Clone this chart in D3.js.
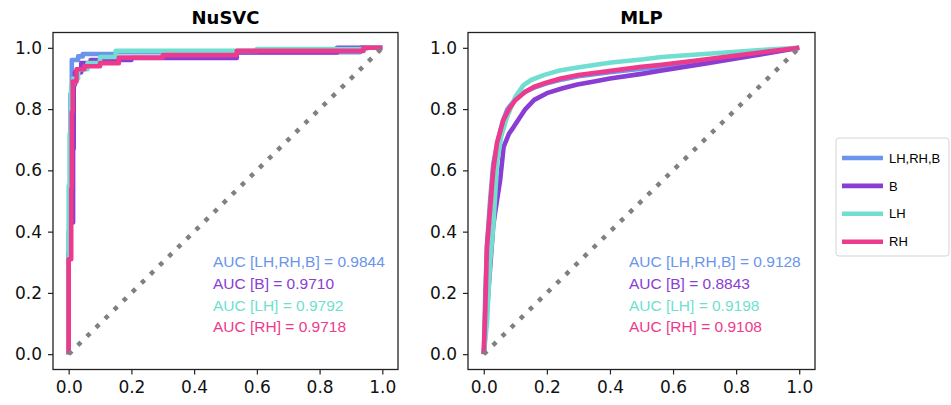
<!DOCTYPE html>
<html>
<head>
<meta charset="utf-8">
<script src="https://cdn.jsdelivr.net/npm/d3@7"></script>
<style>
  body { margin: 0; background: #fff; }
  svg { display: block; }
</style>
</head>
<body>
<script>
// series names and colours
const seriesNames = ['LH,RH,B', 'B', 'LH', 'RH'];
const seriesColors = ['#6a95eb', '#8a3dd2', '#70dfd1', '#ee3a8c'];
const ticks = [0, 0.2, 0.4, 0.6, 0.8, 1.0];

// NuSVC roc points [fpr, tpr]
const svcAll = [[0,0],[0,0.4],[0.003,0.4],[0.003,0.51],[0.006,0.51],[0.006,0.85],[0.01,0.85],[0.01,0.96],[0.03,0.96],[0.03,0.972],[0.045,0.972],[0.045,0.98],[0.15,0.98],[0.15,0.986],[0.93,0.986],[0.93,1],[1,1]];
const svcB = [[0,0],[0,0.33],[0.003,0.33],[0.003,0.43],[0.014,0.43],[0.014,0.67],[0.016,0.67],[0.016,0.88],[0.02,0.88],[0.02,0.92],[0.04,0.92],[0.04,0.95],[0.07,0.95],[0.07,0.96],[0.2,0.96],[0.2,0.967],[0.536,0.967],[0.536,0.985],[0.856,0.985],[0.856,1],[1,1]];
const svcLH = [[0,0],[0,0.55],[0.003,0.55],[0.003,0.72],[0.008,0.72],[0.008,0.88],[0.015,0.88],[0.015,0.9],[0.03,0.9],[0.03,0.93],[0.06,0.93],[0.06,0.95],[0.1,0.95],[0.1,0.97],[0.15,0.97],[0.15,0.99],[0.6,0.99],[0.6,0.996],[0.95,0.996],[0.95,1],[1,1]];
const svcRH = [[0,0],[0,0.31],[0.008,0.31],[0.008,0.54],[0.01,0.54],[0.01,0.79],[0.013,0.79],[0.013,0.89],[0.025,0.89],[0.025,0.93],[0.05,0.93],[0.05,0.94],[0.1,0.94],[0.1,0.95],[0.16,0.95],[0.16,0.968],[0.3,0.968],[0.3,0.976],[0.536,0.976],[0.536,0.99],[0.94,0.99],[0.94,1],[1,1]];
const svcAuc = ['0.9844', '0.9710', '0.9792', '0.9718'];

// MLP roc points [fpr, tpr]
const mlpAll = [[0,0],[0.005,0.2],[0.01,0.35],[0.02,0.5],[0.03,0.62],[0.045,0.7],[0.06,0.76],[0.075,0.8],[0.1,0.832],[0.13,0.856],[0.16,0.87],[0.2,0.884],[0.25,0.897],[0.3,0.907],[0.4,0.92],[0.5,0.932],[0.6,0.942],[0.7,0.958],[0.8,0.972],[0.9,0.986],[1,1]];
const mlpB = [[0,0],[0.015,0.21],[0.03,0.42],[0.04,0.49],[0.052,0.569],[0.063,0.677],[0.08,0.72],[0.095,0.742],[0.132,0.8],[0.16,0.83],[0.2,0.852],[0.25,0.868],[0.297,0.88],[0.35,0.89],[0.4,0.9],[0.5,0.915],[0.56,0.925],[0.7,0.948],[0.8,0.965],[0.9,0.982],[1,1]];
const mlpLH = [[0,0],[0.01,0.1],[0.02,0.3],[0.031,0.43],[0.042,0.623],[0.055,0.71],[0.074,0.775],[0.1,0.84],[0.126,0.878],[0.15,0.895],[0.19,0.911],[0.24,0.926],[0.297,0.936],[0.35,0.944],[0.404,0.952],[0.5,0.962],[0.564,0.97],[0.7,0.98],[0.8,0.987],[0.9,0.994],[1,1]];
const mlpRH = [[0,0],[0.005,0.15],[0.01,0.35],[0.02,0.47],[0.03,0.6],[0.042,0.69],[0.062,0.764],[0.08,0.8],[0.1,0.829],[0.13,0.855],[0.158,0.872],[0.2,0.887],[0.244,0.9],[0.3,0.911],[0.404,0.925],[0.5,0.938],[0.564,0.945],[0.7,0.962],[0.8,0.975],[0.9,0.988],[1,1]];
const mlpAuc = ['0.9128', '0.8843', '0.9198', '0.9108'];

const width = 951, height = 405;
const plotTop = 32.5, plotBottom = 369.5;

let svg = d3.select('body')
  .append('svg')
  .attr('width', width)
  .attr('height', height);

function drawPanel(left, right, title, curves, aucs) {
  let x = d3.scaleLinear().domain([-0.05, 1.05]).range([left, right]);
  let y = d3.scaleLinear().domain([-0.05, 1.05]).range([plotBottom, plotTop]);
  let g = svg.append('g');

  let line = d3.line()
    .x(d => x(d[0]))
    .y(d => y(d[1]));

  g.selectAll('path.roc')
    .data(curves)
    .join('path')
    .attr('class', 'roc')
    .attr('d', line)
    .attr('fill', 'none')
    .attr('stroke', (d, i) => seriesColors[i])
    .attr('stroke-width', 4.6)
    .attr('stroke-linejoin', 'round');

  // chance diagonal
  g.append('path')
    .attr('d', line([[0, 0], [1, 1]]))
    .attr('fill', 'none')
    .attr('stroke', '#808080')
    .attr('stroke-width', 4.5)
    .attr('stroke-dasharray', '4.5,8.2');

  g.selectAll('text.auc')
    .data(aucs)
    .join('text')
    .attr('class', 'auc')
    .attr('x', x(0.46))
    .attr('y', (d, i) => 267 + i * 21.8)
    .attr('fill', (d, i) => seriesColors[i])
    .style('font-family', '"Liberation Sans", Arial, sans-serif')
    .style('font-size', '15.5px')
    .text((d, i) => 'AUC [' + seriesNames[i] + '] = ' + d);

  let xAxis = g.append('g')
    .attr('transform', `translate(0,${plotBottom})`)
    .call(d3.axisBottom(x).tickValues(ticks).tickFormat(d3.format('.1f')).tickSizeOuter(0).tickSize(5).tickPadding(6));
  let yAxis = g.append('g')
    .attr('transform', `translate(${left},0)`)
    .call(d3.axisLeft(y).tickValues(ticks).tickFormat(d3.format('.1f')).tickSizeOuter(0).tickSize(5).tickPadding(6));
  [xAxis, yAxis].forEach(a => {
    a.select('.domain').remove();
    a.selectAll('line').attr('stroke', '#222').attr('stroke-width', 1.2);
    a.selectAll('text')
      .attr('fill', '#111')
      .style('font-family', '"DejaVu Sans", sans-serif')
      .style('font-size', '17px');
  });

  g.append('rect')
    .attr('x', left)
    .attr('y', plotTop)
    .attr('width', right - left)
    .attr('height', plotBottom - plotTop)
    .attr('fill', 'none')
    .attr('stroke', '#222')
    .attr('stroke-width', 1.3);

  g.append('text')
    .attr('x', (left + right) / 2)
    .attr('y', 24)
    .attr('text-anchor', 'middle')
    .style('font-family', '"DejaVu Sans", sans-serif')
    .style('font-weight', 'bold')
    .style('font-size', '18px')
    .text(title);
}

drawPanel(53, 398, 'NuSVC', [svcAll, svcB, svcLH, svcRH], svcAuc);
drawPanel(468, 815, 'MLP', [mlpAll, mlpB, mlpLH, mlpRH], mlpAuc);

// legend
let legend = svg.append('g').attr('transform', 'translate(836,138)');
legend.append('rect')
  .attr('width', 113)
  .attr('height', 118)
  .attr('rx', 3)
  .attr('fill', '#fff')
  .attr('stroke', '#d4d4d4')
  .attr('stroke-width', 1);
let item = legend.selectAll('g.item')
  .data(seriesNames)
  .join('g')
  .attr('class', 'item')
  .attr('transform', (d, i) => `translate(0,${20 + i * 27.9})`);
item.append('line')
  .attr('x1', 6).attr('x2', 47)
  .attr('stroke', (d, i) => seriesColors[i])
  .attr('stroke-width', 4.6);
item.append('text')
  .attr('x', 53)
  .attr('dy', '0.36em')
  .style('font-family', '"Liberation Sans", Arial, sans-serif')
  .style('font-size', '13px')
  .text(d => d);
</script>
</body>
</html>
